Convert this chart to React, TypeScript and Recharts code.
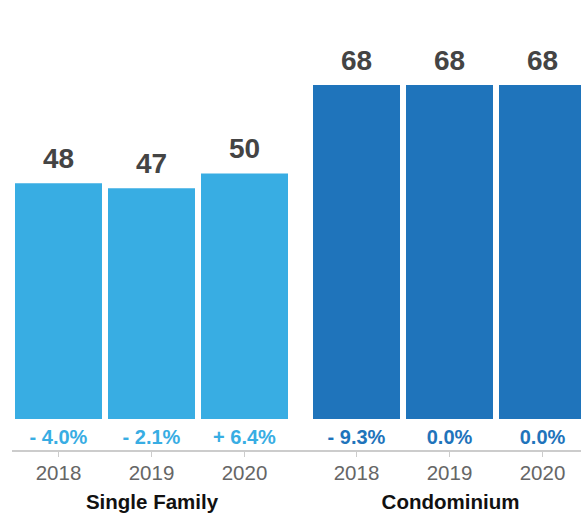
import React from 'react';
import { BarChart, Bar, XAxis, YAxis, LabelList, Label } from 'recharts';

const years = ['2018', '2019', '2020'];
const singleFamilyValues = [48, 47, 50];
const singleFamilyChanges = ['- 4.0%', '- 2.1%', '+ 6.4%'];
const condoValues = [68, 68, 68];
const condoChanges = ['- 9.3%', '0.0%', '0.0%'];

const LIGHT = '#38ade3';
const DARK = '#1f74bb';
const FONT = '"Liberation Sans", Arial, Helvetica, sans-serif';

const sfData = years.map((y, i) => ({ year: y, value: singleFamilyValues[i], change: singleFamilyChanges[i] }));
const condoData = years.map((y, i) => ({ year: y, value: condoValues[i], change: condoChanges[i] }));

const makeTick = (changes: string[], color: string) => (props: any) => {
  const { x, y, payload, index } = props;
  const i = typeof index === 'number' ? index : years.indexOf(payload.value);
  return (
    <g>
      <text x={x} y={y - 21} textAnchor="middle" fontSize={20} fontWeight="bold" fill={color} fontFamily={FONT}>
        {changes[i]}
      </text>
      <text x={x} y={y} dy="0.71em" textAnchor="middle" fontSize={20.5} fill="#666" fontFamily={FONT}>
        {payload.value}
      </text>
    </g>
  );
};

function Group(props: {
  data: any[];
  width: number;
  marginLeft: number;
  padding: { left: number; right: number };
  color: string;
  changes: string[];
  title: string;
  titleDx: number;
}) {
  const { data, width, marginLeft, padding, color, changes, title, titleDx } = props;
  return (
    <BarChart
      width={width}
      height={517}
      data={data}
      margin={{ top: 26, right: 0, left: marginLeft, bottom: 0 }}
      barCategoryGap={3}
      style={{ fontFamily: FONT, flexShrink: 0 }}
    >
      <YAxis hide domain={[-6.5, 80]} allowDataOverflow type="number" />
      <XAxis
        dataKey="year"
        height={66}
        interval={0}
        tickSize={6}
        tickMargin={8}
        padding={padding}
        axisLine={{ stroke: '#cccccc', strokeWidth: 2 }}
        tickLine={{ stroke: '#cccccc', strokeWidth: 1 }}
        tick={makeTick(changes, color)}
      >
        <Label
          value={title}
          position="insideBottom"
          offset={8}
          dx={titleDx}
          fill="#111"
          fontSize={20.5}
          fontWeight="bold"
          fontFamily={FONT}
        />
      </XAxis>
      <Bar dataKey="value" fill={color} isAnimationActive={false}>
        <LabelList dataKey="value" position="top" offset={15} fill="#444" fontSize={28} fontWeight="bold" fontFamily={FONT} />
      </Bar>
    </BarChart>
  );
}

export default function App() {
  return (
    <div
      style={{
        position: 'absolute',
        left: 0,
        top: 0,
        width: 581,
        height: 517,
        overflow: 'hidden',
        display: 'flex',
        background: '#fff',
      }}
    >
      <Group
        data={sfData}
        width={301}
        marginLeft={12}
        padding={{ left: 0, right: 10 }}
        color={LIGHT}
        changes={singleFamilyChanges}
        title="Single Family"
        titleDx={-4.5}
      />
      <Group
        data={condoData}
        width={288}
        marginLeft={0}
        padding={{ left: 9, right: 0 }}
        color={DARK}
        changes={condoChanges}
        title="Condominium"
        titleDx={5.5}
      />
    </div>
  );
}
